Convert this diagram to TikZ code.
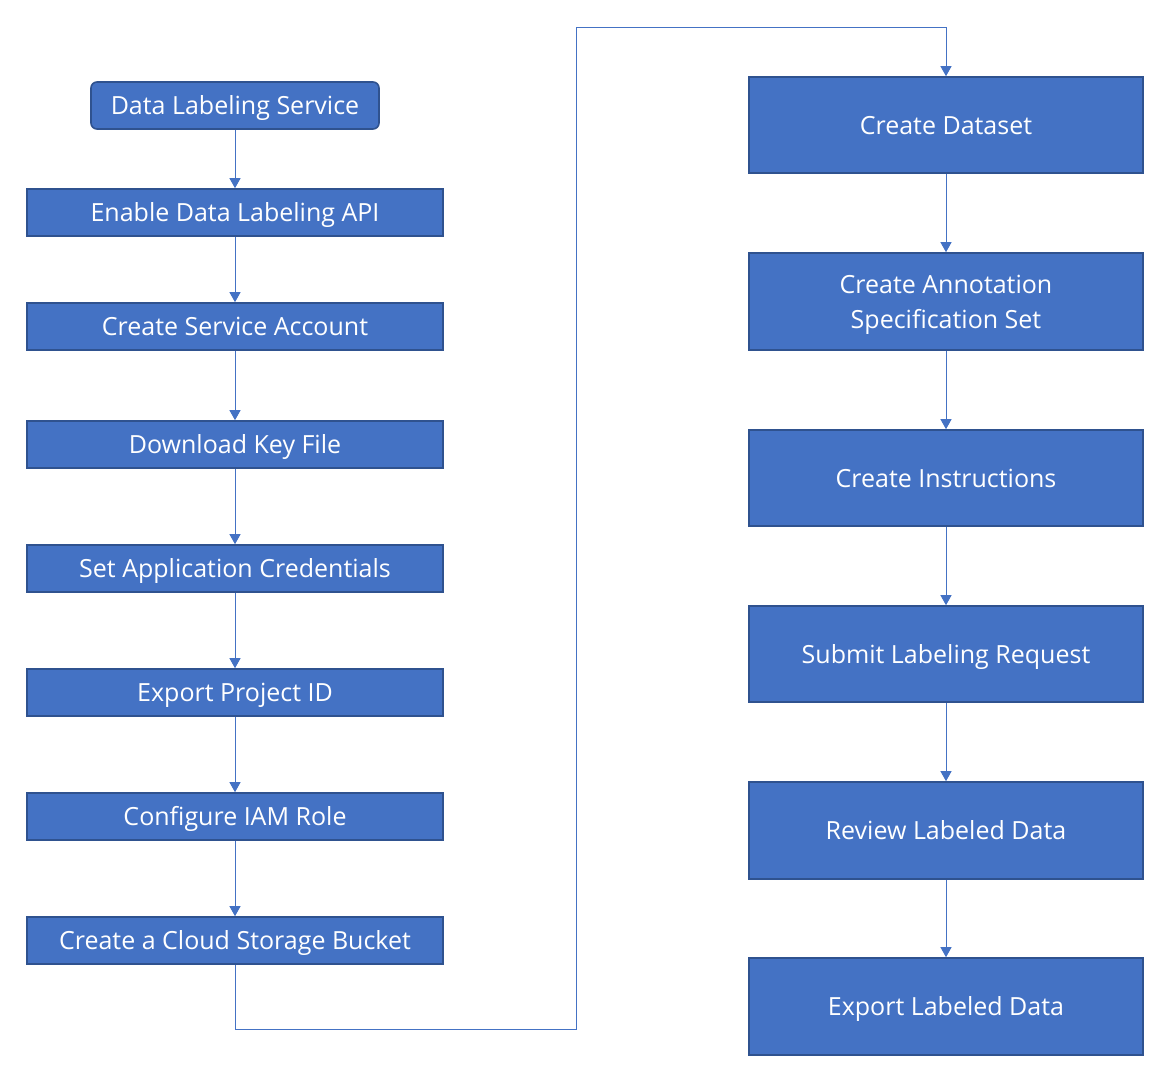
\documentclass[tikz,border=0pt]{standalone}
\usepackage{fontspec}
\setmainfont{Open Sans}
\usetikzlibrary{arrows.meta}
\definecolor{boxfill}{HTML}{4472C4}
\definecolor{boxline}{HTML}{2F528F}
\definecolor{conn}{HTML}{4472C4}
\begin{document}
\begin{tikzpicture}[x=1pt,y=-1pt,
  stepbox/.style={draw=boxline,line width=1.6pt,fill=boxfill,text=white,font=\fontsize{25}{35}\selectfont,align=center,inner sep=0pt,text height=18pt,text depth=0pt},
  conn/.style={draw=conn,line width=1pt,-{Triangle[width=11pt,length=10pt]}}]
\useasboundingbox (0,0) rectangle (1172,1079);
\newcommand{\lbox}[4]{\node[stepbox,minimum width=416pt,minimum height=#3pt] (#1) at (235,#2) {#4};}
\newcommand{\rbox}[4]{\node[stepbox,minimum width=394pt,minimum height=#3pt] (#1) at (946,#2) {#4};}
\node[stepbox,rounded corners=6pt,minimum width=288pt,minimum height=47pt] (a) at (235,105.5) {Data Labeling Service};
\lbox{b}{212.5}{47}{Enable Data Labeling API}
\lbox{c}{326.5}{47}{Create Service Account}
\lbox{d}{444.5}{47}{Download Key File}
\lbox{e}{568.5}{47}{Set Application Credentials}
\lbox{f}{692.5}{47}{Export Project ID}
\lbox{g}{816.5}{47}{Configure IAM Role}
\lbox{h}{940.5}{47}{Create a Cloud Storage Bucket}
\rbox{i}{125}{96}{Create Dataset}
\node[stepbox,text height=53pt,minimum width=394pt,minimum height=97pt] (j) at (946,301.5) {Create Annotation\\Specification Set};
\rbox{k}{478}{96}{Create Instructions}
\rbox{l}{654}{96}{Submit Labeling Request}
\rbox{m}{830.5}{97}{Review Labeled Data}
\rbox{n}{1006.5}{97}{Export Labeled Data}
\draw[conn] (a) -- (b);
\draw[conn] (b) -- (c);
\draw[conn] (c) -- (d);
\draw[conn] (d) -- (e);
\draw[conn] (e) -- (f);
\draw[conn] (f) -- (g);
\draw[conn] (g) -- (h);
\draw[conn] (h.south) -- (235,1029) -- (576,1029) -- (576,27) -- (946,27) -- (i.north);
\draw[conn] (i) -- (j);
\draw[conn] (j) -- (k);
\draw[conn] (k) -- (l);
\draw[conn] (l) -- (m);
\draw[conn] (m) -- (n);
\end{tikzpicture}
\end{document}
